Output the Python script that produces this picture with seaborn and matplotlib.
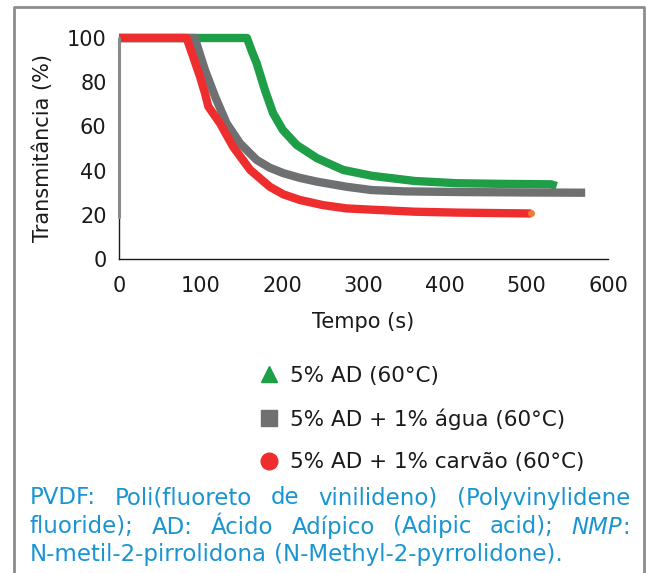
import matplotlib
matplotlib.use('Agg')
import matplotlib.pyplot as plt
import seaborn as sns
import pandas as pd
from matplotlib.lines import Line2D

# series (time in s, transmittance in %)
green_x = [0, 157, 163, 169, 179, 189, 201, 218, 243, 275, 311, 363, 414, 470, 530, 537]
green_y = [100, 100, 94, 88.5, 76.5, 66, 58.4, 51.6, 45.6, 40.3, 37.6, 35.3, 34.3, 34.0, 33.8, 33]

gray_x = [0, 0, 93, 99, 105.5, 118, 132, 148.5, 169, 185, 202, 222, 243, 279, 310, 350, 420, 500, 572]
gray_y = [19, 100, 100, 93, 85.5, 73.4, 61.4, 52.3, 44.8, 41.3, 38.8, 36.7, 35, 32.7, 31.2, 30.6, 30.3, 30.1, 30]

red_x = [0, 83, 91, 99.4, 105.5, 109.6, 124, 140, 161, 185, 202, 222, 250, 279, 311, 363, 414, 460, 506]
red_y = [100, 100, 91.5, 82.5, 75, 69, 61.4, 50.8, 40.3, 32.7, 29.2, 26.7, 24.4, 22.9, 22.3, 21.4, 21, 20.8, 20.6]

labels = ['5% AD (60°C)', '5% AD + 1% água (60°C)', '5% AD + 1% carvão (60°C)']
xticks = [0, 100, 200, 300, 400, 500, 600]
yticks = [0, 20, 40, 60, 80, 100]

caption_lines = [
    'PVDF: Poli(fluoreto de vinilideno) (Polyvinylidene',
    'fluoride); AD: Ácido Adípico (Adipic acid); NMP:',
    'N-metil-2-pirrolidona (N-Methyl-2-pyrrolidone).',
]

GREEN = '#1f9e48'
GRAY = '#6e7072'
RED = '#ee2e2e'
BLUE = '#1a95d2'
INK = '#1a1a1a'

sns.set_style('white')
plt.rcParams['font.family'] = ['DejaVu Sans']
FS = 15

W, H = 647, 573
fig = plt.figure(figsize=(W / 100, H / 100), dpi=100)
ax = fig.add_axes([119 / W, 1 - 259 / H, (608 - 119) / W, (259 - 38) / H])

df_green = pd.DataFrame({'t': green_x, 'T': green_y})
df_gray = pd.DataFrame({'t': gray_x, 'T': gray_y})
df_red = pd.DataFrame({'t': red_x, 'T': red_y})

kw = dict(x='t', y='T', sort=False, estimator=None, lw=6, ax=ax, clip_on=False,
          solid_joinstyle='round', solid_capstyle='butt')
sns.lineplot(data=df_green, color=GREEN, **kw)
# thin vertical start of the grey run along the y axis
ax.plot(gray_x[:2], gray_y[:2], color='#8a8a8a', lw=2.2, clip_on=False, zorder=3)
sns.lineplot(data=df_gray.iloc[1:], color=GRAY, **kw)
sns.lineplot(data=df_red, color=RED, **kw)
ax.plot(red_x[-1], red_y[-1], 'o', color='#f07a3a', ms=4, clip_on=False, zorder=5)

ax.set_xlim(0, 600)
ax.set_ylim(0, 100)
ax.set_xticks(xticks)
ax.set_yticks(yticks)
ax.tick_params(axis='both', direction='out', length=5, width=1, color=INK,
               labelcolor=INK, labelsize=FS)
ax.tick_params(axis='x', pad=7)
ax.tick_params(axis='y', pad=4)
for s in ['top', 'right']:
    ax.spines[s].set_visible(False)
for s in ['left', 'bottom']:
    ax.spines[s].set_color(INK)
    ax.spines[s].set_linewidth(1)
ax.set_xlabel('Tempo (s)', fontsize=FS, color=INK, labelpad=12)
ax.set_ylabel('Transmitância (%)', fontsize=FS, color=INK, labelpad=10)

handles = [
    Line2D([], [], ls='', marker='^', color=GREEN, ms=12),
    Line2D([], [], ls='', marker='s', color=GRAY, ms=12),
    Line2D([], [], ls='', marker='o', color=RED, ms=12),
]
leg = fig.legend(handles, labels, loc='upper left', bbox_to_anchor=(247 / W, 1 - 357 / H),
                 frameon=False, fontsize=15.5, labelspacing=1.05, handletextpad=0.4,
                 handlelength=1.2, borderaxespad=0)
for t in leg.get_texts():
    t.set_color(INK)

# gray frame around the panel, open at the bottom
fx0, fx1, fy = 14 / W, 644 / W, 1 - 7 / H
fig.add_artist(Line2D([fx0, fx0, fx1, fx1], [0, fy, fy, 0], transform=fig.transFigure,
                      color='#8c8c8c', lw=2))

# justified caption, word by word; NMP in italics
CFS = 16.5
fig.canvas.draw()
renderer = fig.canvas.get_renderer()
left, right = 30, 630
line_y = [498, 527, 555]
space_w = fig.text(0, 0, 'a a', fontsize=CFS).get_window_extent(renderer).width - \
    fig.text(0, 0, 'aa', fontsize=CFS).get_window_extent(renderer).width
for t in fig.texts[-2:]:
    t.remove()


def make_word(word, y):
    parts = [('NMP', 'italic'), (':', 'normal')] if word == 'NMP:' else [(word, 'normal')]
    arts = [fig.text(0, y, p, color=BLUE, fontsize=CFS, style=st, va='center', ha='left')
            for p, st in parts]
    ws = [a.get_window_extent(renderer).width for a in arts]
    return arts, ws


for i, line in enumerate(caption_lines):
    y = 1 - line_y[i] / H
    words = [make_word(w, y) for w in line.split(' ')]
    total = sum(sum(ws) for _, ws in words)
    if i < len(caption_lines) - 1:
        gap = (right - left - total) / (len(words) - 1)
    else:
        gap = space_w
    x = left
    for arts, ws in words:
        for a, wd in zip(arts, ws):
            a.set_x(x / W)
            x += wd
        x += gap

fig.savefig('out.png', dpi=100)
